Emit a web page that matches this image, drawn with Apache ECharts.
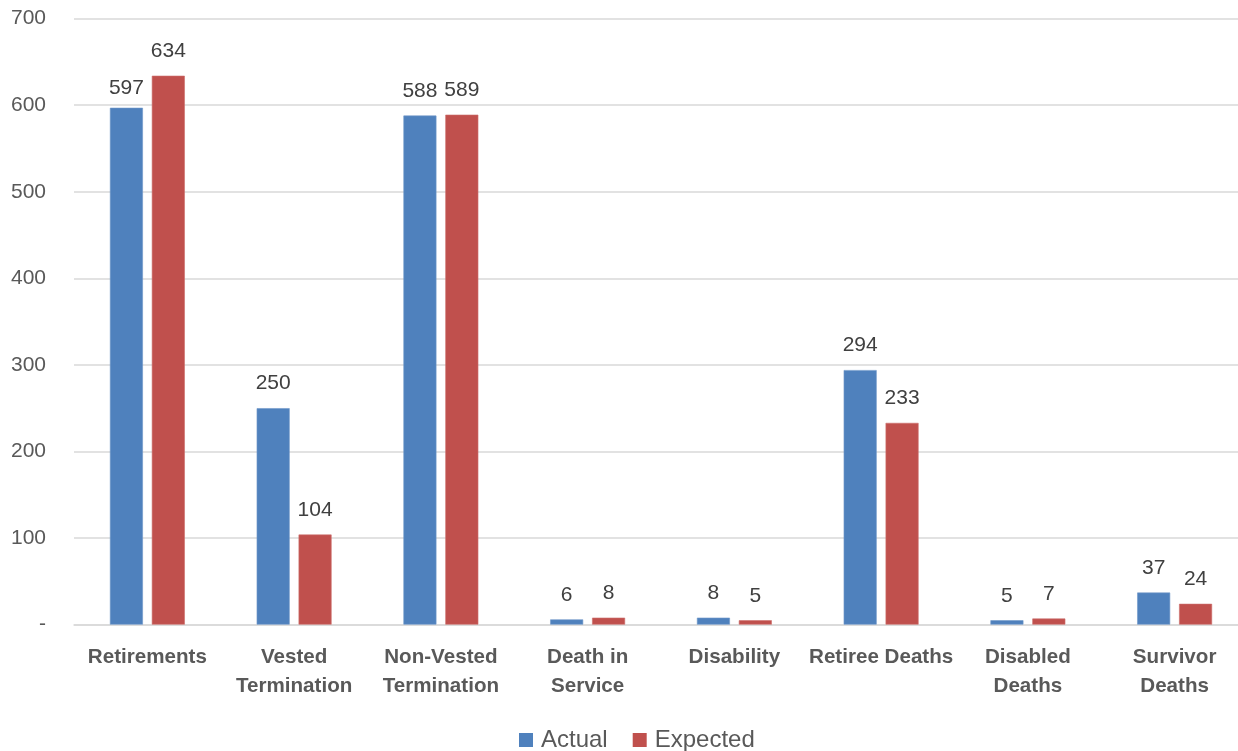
<!DOCTYPE html>
<html>
<head>
<meta charset="utf-8">
<script src="https://cdn.jsdelivr.net/npm/echarts@6/dist/echarts.min.js"></script>
<style>
  html, body { margin: 0; padding: 0; background: #fff; overflow: hidden; }
  #chart { width: 1252px; height: 751px; }
</style>
</head>
<body>
<div id="chart"></div>
<script>
// Decrement counts by cause: actual vs expected
const categories = [
  'Retirements', 'Vested\nTermination', 'Non-Vested\nTermination', 'Death in\nService',
  'Disability', 'Retiree Deaths', 'Disabled\nDeaths', 'Survivor\nDeaths'
];
const actual   = [597, 250, 588, 6, 8, 294, 5, 37];
const expected = [634, 104, 589, 8, 5, 233, 7, 24];
const seriesNames = ['Actual', 'Expected'];

const FONT = '"Liberation Sans", Arial, sans-serif';
// plot runs slightly past the right edge of the window, so the canvas is a bit wider
const chart = echarts.init(document.getElementById('chart'), null, { renderer: 'canvas' });

const labelStyle = {
  show: true,
  position: 'top',
  distance: 14,
  color: '#404040',
  fontFamily: FONT,
  fontSize: 21
};

// the first actual label sits a little lower, next to the taller expected bar
const actualData = actual.map((v, i) =>
  i === 0 ? { value: v, label: { distance: 9 } } : v
);

chart.setOption({
  animation: false,
  backgroundColor: '#ffffff',
  grid: { left: 74, top: 18.6, width: 1174, height: 606, containLabel: false },
  legend: {
    top: 723,
    left: 514,
    itemWidth: 14,
    itemHeight: 14,
    itemGap: 25,
    icon: 'rect',
    itemStyle: { borderWidth: 0 },
    textStyle: { fontFamily: FONT, fontSize: 24, color: '#595959', padding: [0, 0, 0, 3] },
    data: seriesNames
  },
  xAxis: {
    type: 'category',
    data: categories,
    axisTick: { show: false },
    axisLine: { show: true, lineStyle: { color: '#d9d9d9', width: 1.5 } },
    axisLabel: {
      margin: 18,
      interval: 0,
      fontFamily: FONT,
      fontSize: 20.6,
      fontWeight: 'bold',
      color: '#595959',
      lineHeight: 29
    }
  },
  yAxis: {
    type: 'value',
    min: 0,
    max: 700,
    interval: 100,
    axisLine: { show: false },
    axisTick: { show: false },
    splitLine: { lineStyle: { color: '#d9d9d9', width: 1.5 } },
    axisLabel: {
      margin: 28,
      fontFamily: FONT,
      fontSize: 21,
      color: '#595959',
      formatter: v => (v === 0 ? '-' : String(v))
    }
  },
  series: [
    {
      name: seriesNames[0],
      type: 'bar',
      data: actualData,
      barWidth: 33,
      barGap: '27%',
      itemStyle: { color: '#4f81bd', borderColor: '#6f97c9', borderWidth: 0.6 },
      label: labelStyle
    },
    {
      name: seriesNames[1],
      type: 'bar',
      data: expected,
      barWidth: 33,
      barGap: '27%',
      itemStyle: { color: '#c0504d', borderColor: '#cc6e6b', borderWidth: 0.6 },
      label: labelStyle
    }
  ]
});
</script>
</body>
</html>
